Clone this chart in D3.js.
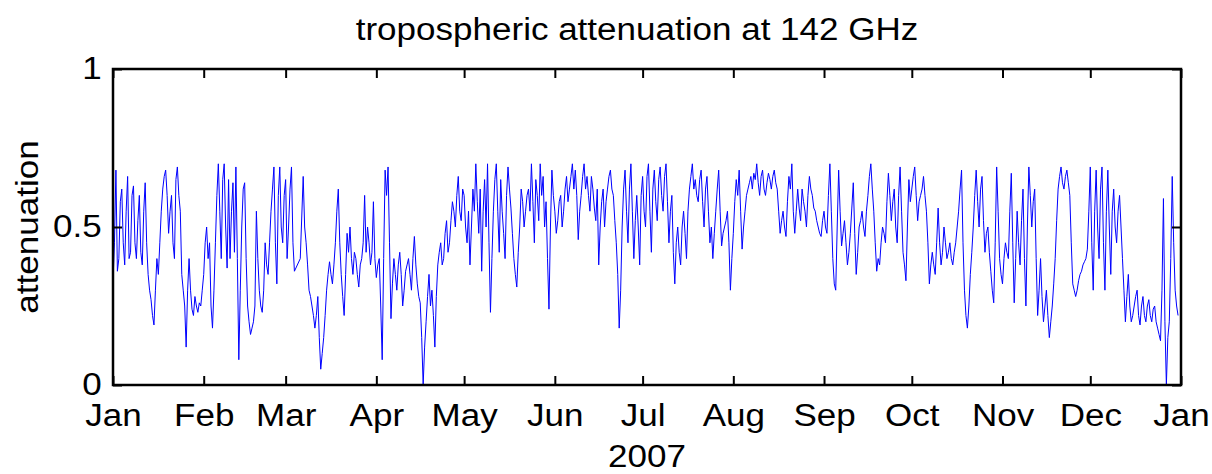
<!DOCTYPE html>
<html>
<head>
<meta charset="utf-8">
<script src="https://cdn.jsdelivr.net/npm/d3@7"></script>
<style>
  body { margin: 0; background: #fff; }
  text { font-family: "Liberation Sans", Arial, sans-serif; fill: #000; }
</style>
</head>
<body>
<svg id="main" width="1212" height="474"></svg>
<script>
// attenuation at 00:00 of each day of 2007 (null = missing)
const attenuationAM = [
  0.33, 0.68, 0.40, 0.62, 0.38, 0.66, 0.42, 0.63, 0.40, 0.60,
  0.38, 0.64, 0.35, 0.27, 0.19, 0.40, 0.45, 0.62, 0.68, 0.48,
  0.60, 0.40, 0.69, 0.55, 0.30, 0.12, 0.40, 0.24, 0.28, 0.23,
  0.25, 0.35, 0.50, 0.45, 0.18, 0.45, 0.70, 0.40, 0.70, 0.37,
  0.40, 0.64, 0.69, 0.08, 0.50, 0.64, 0.25, 0.16, 0.20, 0.55,
  0.30, 0.23, 0.45, 0.35, 0.55, 0.69, 0.32, 0.69, 0.45, 0.65,
  0.50, 0.69, 0.36, null, 0.40, 0.66, 0.45, 0.30, 0.25, 0.18,
  0.28, 0.05, 0.15, 0.30, 0.39, 0.32, 0.45, 0.62, 0.35, 0.22,
  0.48, 0.50, 0.35, 0.40, 0.31, 0.40, 0.60, 0.50, 0.38, 0.58,
  0.34, 0.40, 0.08, 0.68, 0.69, 0.21, 0.40, 0.30, 0.42, 0.25,
  0.36, 0.40, 0.30, 0.47, 0.32, 0.26, 0.00, 0.20, 0.35, 0.30,
  0.12, 0.38, 0.45, 0.40, 0.52, 0.45, 0.58, 0.50, 0.66, 0.52,
  0.60, 0.45, 0.38, 0.62, 0.70, 0.48, 0.36, 0.65, 0.70, 0.23,
  0.55, 0.70, 0.42, 0.55, 0.40, 0.69, 0.56, 0.40, 0.31, 0.50,
  0.58, 0.55, 0.62, 0.70, 0.45, 0.60, 0.70, 0.66, 0.58, 0.24,
  0.68, 0.55, 0.52, 0.60, 0.55, 0.66, 0.62, 0.70, 0.68, 0.46,
  0.60, 0.70, 0.66, 0.55, 0.62, 0.52, 0.38, 0.58, 0.50, 0.62,
  0.68, 0.60, 0.45, 0.18, 0.50, 0.68, 0.45, 0.70, 0.40, 0.60,
  0.38, 0.66, 0.50, 0.70, 0.42, 0.68, 0.52, 0.69, 0.55, 0.70,
  0.45, 0.60, 0.32, 0.50, 0.38, 0.55, 0.40, 0.62, 0.70, 0.65,
  0.58, 0.68, 0.50, 0.66, 0.45, 0.40, 0.55, 0.68, 0.44, 0.50,
  0.55, 0.30, 0.48, 0.65, 0.68, 0.43, 0.55, 0.62, 0.66, 0.67,
  0.70, 0.60, 0.68, 0.60, 0.67, 0.62, 0.68, 0.62, 0.48, 0.55,
  0.47, 0.66, 0.70, 0.48, 0.62, 0.52, 0.58, 0.50, 0.66, 0.60,
  0.55, 0.50, 0.47, 0.55, 0.48, 0.70, 0.40, 0.30, 0.68, 0.44,
  0.52, 0.38, 0.48, 0.64, 0.35, 0.50, 0.55, 0.47, 0.60, 0.70,
  0.55, 0.36, 0.38, 0.50, 0.45, 0.67, 0.52, 0.62, 0.45, 0.69,
  0.42, 0.33, 0.65, 0.62, 0.69, 0.52, 0.60, 0.66, 0.55, 0.32,
  0.42, 0.35, 0.56, 0.38, 0.50, 0.40, 0.45, 0.38, 0.45, 0.55,
  0.68, 0.30, 0.18, 0.35, 0.50, 0.68, 0.50, 0.66, 0.42, 0.50,
  0.36, 0.26, 0.69, 0.40, 0.32, 0.45, 0.40, 0.67, 0.26, 0.55,
  0.38, 0.62, 0.25, 0.69, 0.50, 0.62, 0.22, 0.40, 0.20, 0.30,
  0.15, 0.25, 0.40, 0.62, 0.69, 0.62, 0.68, 0.60, 0.32, 0.28,
  0.33, 0.36, 0.39, 0.43, 0.69, 0.30, 0.68, 0.40, 0.69, 0.30,
  0.68, 0.35, 0.62, 0.45, 0.60, 0.40, 0.20, 0.35, 0.20, 0.25,
  0.30, 0.19, 0.28, 0.20, 0.27, 0.20, 0.25, 0.18, 0.14, 0.59,
  0.00, 0.20, 0.66, 0.30, 0.22
];
// attenuation at 12:00 of each day
const attenuationPM = [
  0.45, 0.36, 0.58, 0.45, 0.55, 0.40, 0.60, 0.45, 0.52, 0.42,
  0.55, 0.45, 0.30, 0.22, 0.30, 0.35, 0.55, 0.66, 0.60, 0.55,
  0.45, 0.65, 0.60, 0.35, 0.25, 0.30, 0.30, 0.22, 0.25, 0.26,
  0.30, 0.45, 0.40, 0.25, 0.30, 0.60, 0.55, 0.65, 0.50, 0.65,
  0.55, 0.42, 0.40, 0.30, 0.62, 0.40, 0.20, 0.18, 0.25, 0.40,
  0.25, 0.30, 0.38, 0.45, 0.62, 0.45, 0.60, 0.50, 0.60, 0.40,
  0.62, 0.45, null, null, null, 0.50, 0.38, 0.28, 0.22, 0.22,
  0.15, 0.10, 0.22, 0.35, 0.35, 0.38, 0.55, 0.45, 0.28, 0.35,
  0.42, 0.40, 0.42, 0.35, 0.38, 0.45, 0.42, 0.45, 0.42, 0.40,
  0.38, 0.25, 0.40, 0.60, 0.45, 0.32, 0.35, 0.38, 0.35, 0.30,
  0.38, 0.35, 0.40, 0.38, 0.28, 0.15, 0.12, 0.28, 0.25, 0.22,
  0.28, 0.42, 0.38, 0.48, 0.42, 0.52, 0.55, 0.60, 0.55, 0.62,
  0.50, 0.55, 0.50, 0.55, 0.58, 0.62, 0.55, 0.50, 0.45, 0.40,
  0.65, 0.55, 0.65, 0.48, 0.60, 0.62, 0.48, 0.35, 0.42, 0.62,
  0.50, 0.60, 0.55, 0.58, 0.65, 0.52, 0.60, 0.50, 0.40, 0.50,
  0.60, 0.48, 0.58, 0.50, 0.62, 0.58, 0.66, 0.62, 0.60, 0.55,
  0.66, 0.62, 0.60, 0.66, 0.56, 0.62, 0.50, 0.62, 0.58, 0.66,
  0.62, 0.52, 0.35, 0.30, 0.62, 0.55, 0.62, 0.55, 0.52, 0.50,
  0.60, 0.55, 0.66, 0.55, 0.62, 0.58, 0.65, 0.60, 0.66, 0.58,
  0.55, 0.42, 0.45, 0.42, 0.50, 0.48, 0.55, 0.66, 0.62, 0.60,
  0.65, 0.58, 0.62, 0.55, 0.50, 0.48, 0.62, 0.55, 0.48, 0.52,
  0.45, 0.40, 0.58, 0.60, 0.55, 0.50, 0.60, 0.64, 0.62, 0.65,
  0.64, 0.66, 0.62, 0.64, 0.65, 0.66, 0.64, 0.55, 0.52, 0.50,
  0.58, 0.62, 0.55, 0.55, 0.56, 0.62, 0.55, 0.60, 0.62, 0.56,
  0.52, 0.48, 0.52, 0.50, 0.60, 0.55, 0.32, 0.50, 0.55, 0.48,
  0.45, 0.42, 0.56, 0.48, 0.42, 0.52, 0.50, 0.55, 0.66, 0.62,
  0.45, 0.40, 0.45, 0.48, 0.58, 0.60, 0.58, 0.50, 0.60, 0.55,
  0.38, 0.50, 0.58, 0.66, 0.60, 0.58, 0.62, 0.60, 0.45, 0.38,
  0.38, 0.45, 0.45, 0.42, 0.45, 0.42, 0.40, 0.42, 0.50, 0.62,
  0.45, 0.22, 0.25, 0.42, 0.60, 0.58, 0.62, 0.52, 0.48, 0.42,
  0.30, 0.45, 0.55, 0.35, 0.40, 0.42, 0.55, 0.45, 0.40, 0.45,
  0.52, 0.40, 0.50, 0.60, 0.58, 0.40, 0.30, 0.28, 0.25, 0.22,
  0.20, 0.32, 0.52, 0.66, 0.64, 0.66, 0.64, 0.45, 0.30, 0.30,
  0.35, 0.38, 0.40, 0.55, 0.45, 0.55, 0.50, 0.62, 0.45, 0.55,
  0.50, 0.55, 0.50, 0.55, 0.50, 0.30, 0.28, 0.25, 0.22, 0.28,
  0.22, 0.25, 0.22, 0.25, 0.22, 0.24, 0.20, 0.16, 0.30, 0.20,
  0.15, 0.40, 0.45, 0.25, null
];
const monthLabels = ['Jan', 'Feb', 'Mar', 'Apr', 'May', 'Jun', 'Jul', 'Aug', 'Sep', 'Oct', 'Nov', 'Dec', 'Jan'];
const yTicks = [0, 0.5, 1];
const yTickLabels = ['0', '0.5', '1'];

const width = 1212, height = 474;
const margin = { top: 69, right: 31, bottom: 89, left: 113 };
const innerW = width - margin.left - margin.right;
const innerH = height - margin.top - margin.bottom;
const stretch = 1.13; // the original font runs wider than Liberation Sans

const start = new Date(Date.UTC(2007, 0, 1));
const end = new Date(Date.UTC(2008, 0, 1));

let svg = d3.select('#main');
let g = svg.append('g').attr('transform', `translate(${margin.left},${margin.top})`);

let x = d3.scaleUtc().domain([start, end]).range([0, innerW]);
let y = d3.scaleLinear().domain([0, 1]).range([innerH, 0]);

let monthTicks = d3.utcMonth.range(start, d3.utcDay.offset(end, 1));

// merge the two daily readings into one series, skip missing ones
let points = [];
attenuationAM.forEach((v, i) => {
  points.push({ date: d3.utcHour.offset(start, 24 * i), v: v });
  points.push({ date: d3.utcHour.offset(start, 24 * i + 12), v: attenuationPM[i] });
});
points = points.filter(d => d.v !== null && d.v !== undefined);

let line = d3.line()
  .x(d => x(d.date))
  .y(d => y(d.v));

g.append('path')
  .datum(points)
  .attr('d', line)
  .attr('fill', 'none')
  .attr('stroke', '#0000ff')
  .attr('stroke-width', 1)
  .attr('stroke-linejoin', 'round');

// axes, matlab style: ticks inside the box
let styleAxis = sel => {
  sel.select('.domain').remove();
  sel.selectAll('.tick line').attr('stroke', '#000').attr('stroke-width', 2);
  sel.selectAll('text')
    .style('font-size', '31px')
    .attr('fill', '#000')
    .attr('transform', `scale(${stretch},1)`);
};

g.append('g')
  .attr('transform', `translate(0,${innerH})`)
  .call(d3.axisBottom(x).tickValues(monthTicks).tickSize(-9).tickPadding(19)
    .tickFormat((d, i) => monthLabels[i]))
  .call(styleAxis);

g.append('g')
  .call(d3.axisTop(x).tickValues(monthTicks).tickSize(-9).tickFormat(''))
  .call(styleAxis);

g.append('g')
  .call(d3.axisLeft(y).tickValues(yTicks).tickSize(-9).tickPadding(10)
    .tickFormat((d, i) => yTickLabels[i]))
  .call(styleAxis);

g.append('g')
  .attr('transform', `translate(${innerW},0)`)
  .call(d3.axisRight(y).tickValues(yTicks).tickSize(-9).tickFormat(''))
  .call(styleAxis);

// box
g.append('rect')
  .attr('width', innerW)
  .attr('height', innerH)
  .attr('fill', 'none')
  .attr('stroke', '#000')
  .attr('stroke-width', 2.5);

// titles
svg.append('text')
  .attr('transform', `translate(637,40) scale(${stretch},1)`)
  .attr('text-anchor', 'middle')
  .style('font-size', '31px')
  .text('tropospheric attenuation at 142 GHz');

svg.append('text')
  .attr('transform', `translate(${margin.left + innerW / 2},467) scale(${stretch},1)`)
  .attr('text-anchor', 'middle')
  .style('font-size', '31px')
  .text('2007');

svg.append('text')
  .attr('transform', `translate(38,${margin.top + innerH / 2}) rotate(-90) scale(${stretch},1)`)
  .attr('text-anchor', 'middle')
  .style('font-size', '31px')
  .text('attenuation');
</script>
</body>
</html>
